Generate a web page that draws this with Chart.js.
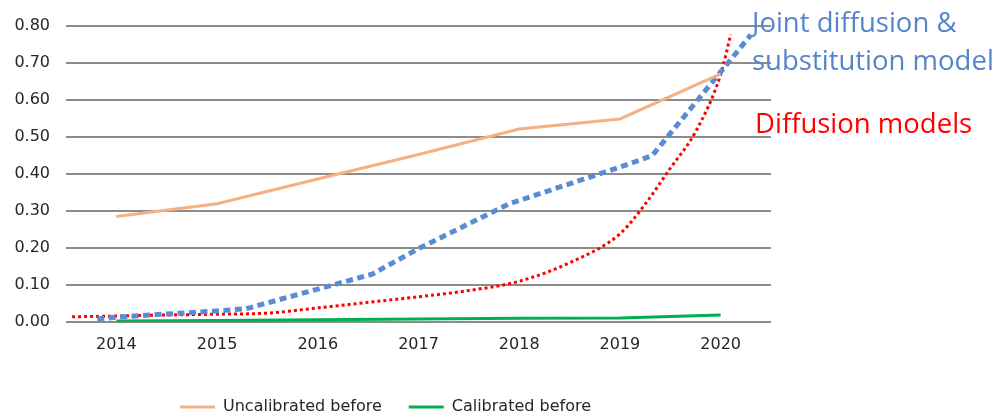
<!DOCTYPE html>
<html>
<head>
<meta charset="utf-8">
<script src="https://cdn.jsdelivr.net/npm/chart.js@4/dist/chart.umd.min.js"></script>
<style>
  html, body { margin: 0; padding: 0; background: #fff; }
  #wrap { width: 995px; height: 415px; }
</style>
</head>
<body>
<div id="wrap"><canvas id="chart"></canvas></div>
<script>
const years = [2014, 2015, 2016, 2017, 2018, 2019, 2020]
const uncalibrated = [0.285, 0.319, 0.386, 0.452, 0.521, 0.548, 0.670]
const calibrated = [0.003, 0.004, 0.006, 0.008, 0.010, 0.011, 0.019]

// dotted model curves at fractional years
const jointX = [2013.81, 2014, 2015, 2015.29, 2016.54, 2017, 2017.9, 2019, 2019.32, 2020, 2020.3]
const jointY = [0.008, 0.013, 0.030, 0.036, 0.129, 0.198, 0.319, 0.418, 0.449, 0.675, 0.775]
const diffX = [2013.56, 2014, 2014.5, 2015, 2015.5, 2016, 2016.5, 2017, 2017.5, 2018, 2018.5, 2019, 2019.25, 2019.5, 2019.75, 2020, 2020.1]
const diffY = [0.014, 0.016, 0.019, 0.021, 0.024, 0.038, 0.053, 0.068, 0.085, 0.110, 0.160, 0.238, 0.318, 0.415, 0.513, 0.668, 0.776]

const yTicks = [0, 0.1, 0.2, 0.3, 0.4, 0.5, 0.6, 0.7, 0.8]

const pts = (xs, ys) => xs.map((x, i) => ({ x, y: ys[i] }))

const tickFont = { family: 'DejaVu Sans', size: 16 }
const blue = '#5A8CD2'

const notes = {
  id: 'notes',
  afterDraw(chart) {
    const { ctx, chartArea } = chart
    ctx.save()
    ctx.textBaseline = 'alphabetic'
    ctx.textAlign = 'left'
    ctx.font = '27.5px "Open Sans"'
    ctx.fillStyle = '#5585CB'
    ctx.fillText('Joint diffusion &', chartArea.right - 19, 32)
    ctx.fillText('substitution model', chartArea.right - 19, 70)
    ctx.fillStyle = '#FF0000'
    ctx.fillText('Diffusion models', chartArea.right - 16, 133)
    ctx.restore()
  },
}

new Chart(document.getElementById('chart'), {
  type: 'line',
  data: {
    datasets: [
      {
        label: 'Uncalibrated before',
        data: pts(years, uncalibrated),
        borderColor: '#F4B183',
        backgroundColor: '#F4B183',
        borderWidth: 3,
        pointRadius: 0,
      },
      {
        label: 'Calibrated before',
        data: pts(years, calibrated),
        borderColor: '#00B050',
        backgroundColor: '#00B050',
        borderWidth: 3,
        pointRadius: 0,
      },
      {
        label: 'Joint diffusion & substitution model',
        data: pts(jointX, jointY),
        borderColor: blue,
        borderWidth: 5,
        borderDash: [7, 4.5],
        pointRadius: 0,
      },
      {
        label: 'Diffusion models',
        data: pts(diffX, diffY),
        borderColor: '#FF0000',
        borderWidth: 3,
        borderDash: [3, 3],
        cubicInterpolationMode: 'monotone',
        pointRadius: 0,
      },
    ],
  },
  options: {
    responsive: true,
    maintainAspectRatio: false,
    animation: false,
    layout: { padding: { top: 24, right: 224, bottom: -10, left: 0 } },
    scales: {
      x: {
        type: 'linear',
        min: 2013.5,
        max: 2020.5,
        afterBuildTicks: (s) => { s.ticks = years.map(v => ({ value: v })) },
        afterFit: (s) => { s.height = 50 },
        grid: { display: false, drawTicks: false },
        border: { display: false },
        ticks: {
          font: tickFont,
          color: '#262626',
          padding: 13,
          maxRotation: 0,
          autoSkip: false,
          callback: (v) => String(v),
        },
      },
      y: {
        min: 0,
        max: 0.8,
        afterBuildTicks: (s) => { s.ticks = yTicks.map(v => ({ value: v })) },
        afterFit: (s) => { s.width = 66 },
        grid: { color: '#8C8C8C', lineWidth: 2, drawTicks: false },
        border: { display: false },
        ticks: {
          font: tickFont,
          color: '#262626',
          padding: 16,
          callback: (v) => v.toFixed(2),
        },
      },
    },
    plugins: {
      legend: {
        position: 'bottom',
        labels: {
          font: tickFont,
          color: '#262626',
          boxWidth: 35,
          boxHeight: 3,
          padding: 27,
          generateLabels: (chart) =>
            Chart.defaults.plugins.legend.labels.generateLabels(chart)
              .filter(item => item.datasetIndex < 2)
              .map(item => ({ ...item, fillStyle: item.strokeStyle, lineWidth: 0, lineDash: [] })),
        },
      },
      tooltip: { enabled: false },
    },
  },
  plugins: [notes],
})
</script>
</body>
</html>
